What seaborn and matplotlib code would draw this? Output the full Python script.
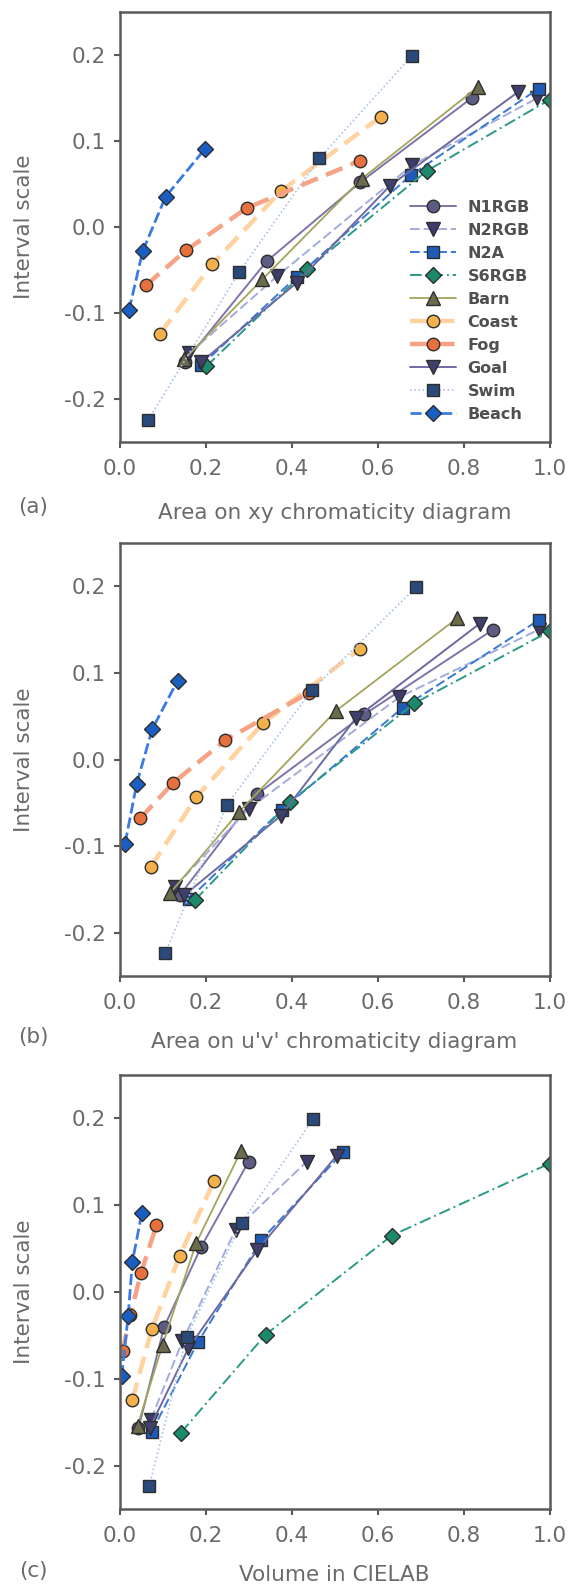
import matplotlib
matplotlib.use("Agg")
import matplotlib.pyplot as plt
import seaborn as sns
import numpy as np

# ---------------- data ----------------
series = ["N1RGB", "N2RGB", "N2A", "S6RGB", "Barn", "Coast", "Fog", "Goal", "Swim", "Beach"]

interval_scale = [
    [-0.157, -0.040, 0.052, 0.150],   # N1RGB
    [-0.147, -0.057, 0.072, 0.150],   # N2RGB
    [-0.161, -0.058, 0.060, 0.161],   # N2A
    [-0.162, -0.049, 0.065, 0.148],   # S6RGB
    [-0.154, -0.061, 0.056, 0.163],   # Barn
    [-0.124, -0.043, 0.042, 0.128],   # Coast
    [-0.068, -0.027, 0.022, 0.077],   # Fog
    [-0.157, -0.065, 0.048, 0.157],   # Goal
    [-0.224, -0.052, 0.080, 0.199],   # Swim
    [-0.097, -0.028, 0.035, 0.091],   # Beach
]

xy_area = [
    [0.152, 0.342, 0.560, 0.819],
    [0.162, 0.367, 0.681, 0.972],
    [0.190, 0.412, 0.677, 0.975],
    [0.202, 0.437, 0.714, 1.000],
    [0.150, 0.332, 0.563, 0.834],
    [0.094, 0.216, 0.376, 0.607],
    [0.061, 0.155, 0.296, 0.559],
    [0.190, 0.412, 0.629, 0.927],
    [0.067, 0.279, 0.465, 0.680],
    [0.022, 0.054, 0.107, 0.199],
]

uv_area = [
    [0.140, 0.320, 0.569, 0.869],
    [0.129, 0.300, 0.651, 0.975],
    [0.162, 0.378, 0.659, 0.975],
    [0.176, 0.396, 0.686, 1.000],
    [0.118, 0.277, 0.503, 0.785],
    [0.073, 0.179, 0.334, 0.560],
    [0.048, 0.125, 0.245, 0.440],
    [0.150, 0.375, 0.550, 0.838],
    [0.106, 0.250, 0.447, 0.690],
    [0.013, 0.040, 0.076, 0.135],
]

lab_volume = [
    [0.044, 0.104, 0.190, 0.300],
    [0.073, 0.146, 0.270, 0.435],
    [0.075, 0.182, 0.330, 0.520],
    [0.143, 0.340, 0.633, 1.000],
    [0.042, 0.100, 0.178, 0.283],
    [0.030, 0.075, 0.140, 0.220],
    [0.007, 0.025, 0.050, 0.086],
    [0.070, 0.160, 0.320, 0.505],
    [0.069, 0.156, 0.284, 0.450],
    [0.005, 0.020, 0.030, 0.052],
]

x_ticks = [0.0, 0.2, 0.4, 0.6, 0.8, 1.0]
y_ticks = [-0.2, -0.1, 0.0, 0.1, 0.2]
panel_tags = ["(a)", "(b)", "(c)"]
x_titles = ["Area on xy chromaticity diagram", "Area on u'v' chromaticity diagram", "Volume in CIELAB"]

# ---------------- styles ----------------
line_colors = ["#7c74aa", "#a2acdc", "#3a78d4", "#2a9a86", "#a4a45c",
               "#ffd2a0", "#f6a284", "#6c6aa2", "#a8c2ea", "#3a7ae4"]
face_colors = ["#5c5c84", "#3c3c6c", "#1f5cb8", "#1a8a6a", "#6c6c4c",
               "#f4b04a", "#e8703c", "#40406e", "#2a4a7c", "#1a5ec2"]
markers = ["o", "v", "s", "D", "^", "o", "o", "v", "s", "D"]
lstyles = ["-", (0, (5, 2)), (0, (5, 2)), (0, (6, 2, 1, 2)), "-",
           (0, (4, 2)), (0, (4, 2)), "-", (0, (1, 1.5)), (0, (4, 1.5))]
lwidths = [1.4, 1.4, 1.4, 1.4, 1.3, 3.2, 3.2, 1.4, 1.2, 2.0]
msizes = [9, 9.5, 8.5, 8, 9.5, 9, 9, 9.5, 8.5, 8]

sns.set_style("white")
plt.rcParams["font.family"] = ["DejaVu Sans"]

W, H = 571, 1589
fig = plt.figure(figsize=(W / 100, H / 100), dpi=100)

# axes boxes in pixels: (left, top, right, bottom)
boxes = [(119.5, 12, 549.5, 442), (119.5, 543, 549.5, 976), (119.5, 1075, 549.5, 1509)]
tag_y = [507, 1037, 1571]
xt_y = [513, 1042, 1575]

tick_color = "#6a6a6a"
spine_color = "#5a5a5a"

datasets = [xy_area, uv_area, lab_volume]
axes = []
for p, (l, t, r, b) in enumerate(boxes):
    ax = fig.add_axes([l / W, 1 - b / H, (r - l) / W, (b - t) / H])
    axes.append(ax)
    xs_all = datasets[p]
    for i, name in enumerate(series):
        sns.lineplot(x=xs_all[i], y=interval_scale[i], ax=ax, estimator=None, sort=False,
                     color=line_colors[i], linestyle=lstyles[i], linewidth=lwidths[i],
                     marker=markers[i], markersize=msizes[i], markerfacecolor=face_colors[i],
                     markeredgecolor="#2e2e2e", markeredgewidth=1.0, label=name, legend=False)
    ax.set_xlim(0, 1.0)
    ax.set_ylim(-0.25, 0.25)
    ax.set_xticks(x_ticks)
    ax.set_yticks(y_ticks)
    ax.set_xticklabels([f"{v:.1f}" for v in x_ticks])
    ax.set_yticklabels([f"{v:.1f}" for v in y_ticks])
    ax.tick_params(axis="both", direction="out", length=4, width=1.5, color=spine_color,
                   labelsize=15.5, labelcolor=tick_color, pad=4,
                   left=True, bottom=True)
    ax.tick_params(axis="x", pad=8)
    ax.tick_params(axis="y", pad=6)
    for s in ax.spines.values():
        s.set_color(spine_color)
        s.set_linewidth(1.8)
    ax.set_xlabel("")
    ax.set_ylabel("")
    fig.text(24 / W, 1 - ((t + b) / 2) / H, "Interval scale", rotation=90, ha="center", va="center",
             fontsize=15.5, color=tick_color)
    fig.text(33 / W, 1 - tag_y[p] / H, panel_tags[p], ha="center", va="center",
             fontsize=15.5, color=tick_color)
    fig.text(((l + r) / 2) / W, 1 - xt_y[p] / H, x_titles[p], ha="center", va="center",
             fontsize=15.5, color=tick_color)

# legend in panel (a)
handles, labels = axes[0].get_legend_handles_labels()
leg = axes[0].legend(handles, labels, loc="upper left",
                     bbox_to_anchor=(410 / W, 1 - 200 / H), bbox_transform=fig.transFigure,
                     frameon=False, borderpad=0, borderaxespad=0,
                     handlelength=2.9, handletextpad=0.7, labelspacing=0.5,
                     prop={"size": 11.5, "weight": "bold"}, labelcolor="#505050")

fig.savefig("out.png", dpi=100)
